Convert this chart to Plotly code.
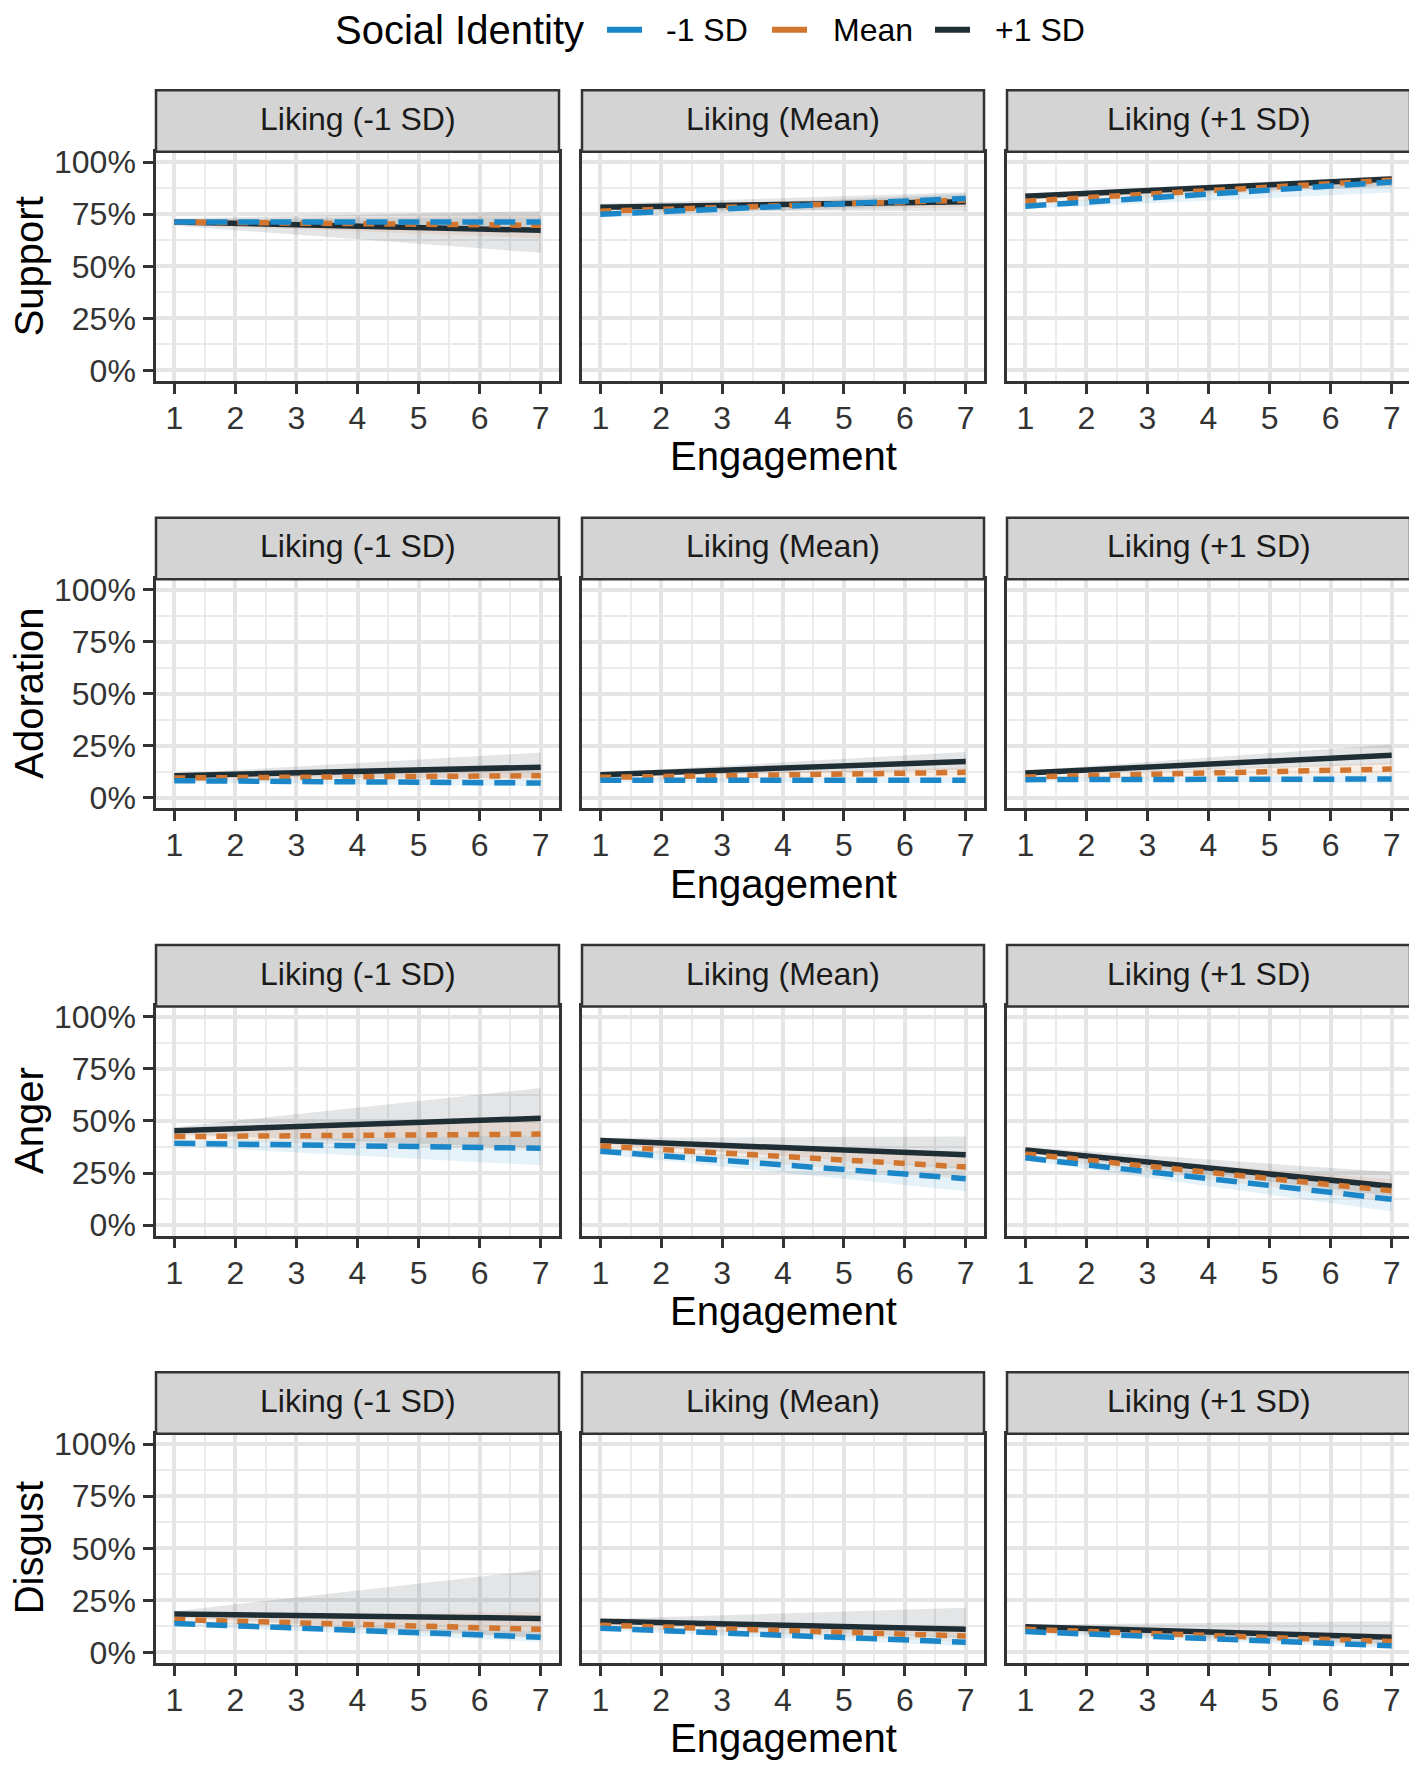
import plotly.graph_objects as go
from plotly.subplots import make_subplots

engagement = [1, 7]

liking_levels = ["Liking (-1 SD)", "Liking (Mean)", "Liking (+1 SD)"]
outcomes = ["Support", "Adoration", "Anger", "Disgust"]
identity_levels = ["-1 SD", "Mean", "+1 SD"]
colors = {"-1 SD": "#1B87C9", "Mean": "#D2762F", "+1 SD": "#1F2D35"}
fills = {"-1 SD": "rgba(27,135,201,0.11)", "Mean": "rgba(210,118,47,0.11)",
         "+1 SD": "rgba(31,45,53,0.12)"}
dashes = {"-1 SD": "21px,11px", "Mean": "11px,10px", "+1 SD": "solid"}

y_ticks = [0, 0.25, 0.5, 0.75, 1.0]
y_labels = ["0%", "25%", "50%", "75%", "100%"]
x_ticks = [1, 2, 3, 4, 5, 6, 7]

# each entry per liking panel: (fit@1, fit@7, lo@1, hi@1, lo@7, hi@7)
support = {
    "-1 SD": [(0.713, 0.713, 0.700, 0.725, 0.690, 0.735),
              (0.750, 0.826, 0.735, 0.765, 0.800, 0.850),
              (0.789, 0.905, 0.775, 0.800, 0.855, 0.925)],
    "Mean":  [(0.713, 0.697, 0.700, 0.725, 0.635, 0.745),
              (0.765, 0.818, 0.750, 0.780, 0.785, 0.845),
              (0.813, 0.914, 0.800, 0.825, 0.885, 0.935)],
    "+1 SD": [(0.713, 0.673, 0.695, 0.730, 0.565, 0.765),
              (0.784, 0.810, 0.770, 0.800, 0.765, 0.856),
              (0.837, 0.919, 0.825, 0.850, 0.885, 0.935)],
}
adoration = {
    "-1 SD": [(0.082, 0.071, 0.075, 0.090, 0.055, 0.090),
              (0.084, 0.084, 0.077, 0.092, 0.070, 0.100),
              (0.087, 0.090, 0.080, 0.095, 0.070, 0.110)],
    "Mean":  [(0.095, 0.106, 0.088, 0.103, 0.085, 0.130),
              (0.098, 0.122, 0.090, 0.106, 0.100, 0.145),
              (0.100, 0.138, 0.092, 0.108, 0.110, 0.170)],
    "+1 SD": [(0.106, 0.147, 0.097, 0.116, 0.095, 0.217),
              (0.111, 0.174, 0.102, 0.120, 0.135, 0.220),
              (0.119, 0.204, 0.110, 0.130, 0.160, 0.256)],
}
anger = {
    "-1 SD": [(0.393, 0.369, 0.380, 0.405, 0.287, 0.430),
              (0.355, 0.223, 0.340, 0.370, 0.163, 0.280),
              (0.323, 0.124, 0.310, 0.335, 0.065, 0.190)],
    "Mean":  [(0.425, 0.437, 0.410, 0.440, 0.360, 0.520),
              (0.380, 0.279, 0.365, 0.395, 0.220, 0.330),
              (0.342, 0.165, 0.330, 0.355, 0.110, 0.220)],
    "+1 SD": [(0.453, 0.513, 0.435, 0.470, 0.370, 0.659),
              (0.406, 0.338, 0.390, 0.420, 0.270, 0.425),
              (0.361, 0.187, 0.345, 0.375, 0.140, 0.255)],
}
disgust = {
    "-1 SD": [(0.139, 0.073, 0.130, 0.150, 0.050, 0.100),
              (0.116, 0.049, 0.108, 0.125, 0.030, 0.080),
              (0.100, 0.032, 0.092, 0.108, 0.020, 0.055)],
    "Mean":  [(0.158, 0.111, 0.148, 0.170, 0.070, 0.195),
              (0.131, 0.079, 0.122, 0.140, 0.050, 0.120),
              (0.111, 0.052, 0.103, 0.120, 0.030, 0.090)],
    "+1 SD": [(0.184, 0.163, 0.170, 0.198, 0.070, 0.397),
              (0.150, 0.111, 0.140, 0.160, 0.070, 0.215),
              (0.123, 0.073, 0.113, 0.133, 0.040, 0.150)],
}
outcome_data = [support, adoration, anger, disgust]

# the page body has an 8px margin, so the figure starts 8px in
OFF = 8
W, H = 1417 - OFF, 1776 - 2 * OFF


def px(v):
    return min(max((v - OFF) / W, 0), 1)


def py(v):
    return min(max(1 - (v - OFF) / H, 0), 1)


col_px = [(156, 559), (582, 984), (1007, 1410)]
row_top0, row_bot0, row_step = 146, 377, 431
strip_h = 62

fig = make_subplots(rows=4, cols=3)

draw_order = ["+1 SD", "Mean", "-1 SD"]
for r, data in enumerate(outcome_data):
    for c in range(3):
        # ribbons first
        for lvl in draw_order:
            f1, f7, lo1, hi1, lo7, hi7 = data[lvl][c]
            fig.add_trace(go.Scatter(
                x=engagement + engagement[::-1], y=[hi1, hi7, lo7, lo1],
                fill="toself", fillcolor=fills[lvl], line=dict(width=0),
                mode="lines", hoverinfo="skip", showlegend=False),
                row=r + 1, col=c + 1)
        for lvl in draw_order:
            f1, f7 = data[lvl][c][0], data[lvl][c][1]
            fig.add_trace(go.Scatter(
                x=engagement, y=[f1, f7], mode="lines", name=lvl,
                line=dict(color=colors[lvl], width=5.5, dash=dashes[lvl]),
                showlegend=False),
                row=r + 1, col=c + 1)

font = "Liberation Sans, Arial, sans-serif"
shapes = []
annotations = []
for r in range(4):
    top = row_top0 + r * row_step
    bot = row_bot0 + r * row_step
    for c in range(3):
        idx = r * 3 + c + 1
        xa = "xaxis" if idx == 1 else f"xaxis{idx}"
        ya = "yaxis" if idx == 1 else f"yaxis{idx}"
        x0, x1 = col_px[c]
        fig.layout[xa].update(
            domain=[px(x0), px(x1)], range=[0.7, 7.3], tickvals=x_ticks,
            showgrid=True, gridcolor="#E5E5E5", gridwidth=3.5,
            minor=dict(dtick=0.5, tick0=1, showgrid=True, gridcolor="#EBEBEB", gridwidth=2),
            ticks="outside", ticklen=10, tickwidth=3, tickcolor="#333333",
            ticklabelstandoff=-3,
            showline=True, mirror=True, linecolor="#333333", linewidth=2.5,
            tickfont=dict(family=font, size=32, color="#333333"), zeroline=False)
        fig.layout[ya].update(
            domain=[py(bot), py(top)], range=[-0.05, 1.05],
            tickvals=y_ticks, ticktext=y_labels,
            showticklabels=(c == 0), ticks="outside" if c == 0 else "",
            ticklen=10, tickwidth=3, tickcolor="#333333", ticklabelstandoff=1,
            showgrid=True, gridcolor="#E5E5E5", gridwidth=3.5,
            minor=dict(dtick=0.125, tick0=0, showgrid=True, gridcolor="#EBEBEB", gridwidth=2),
            showline=True, mirror=True, linecolor="#333333", linewidth=2.5,
            tickfont=dict(family=font, size=32, color="#333333"), zeroline=False)
        # facet strip
        shapes.append(dict(type="rect", xref="paper", yref="paper",
                           x0=px(x0), x1=px(x1), y0=py(top), y1=py(top - strip_h),
                           fillcolor="#D4D4D4", line=dict(color="#333333", width=2.5),
                           layer="above"))
        annotations.append(dict(text=liking_levels[c], xref="paper", yref="paper",
                                x=px((x0 + x1) / 2), y=py(top - strip_h / 2 - 2),
                                showarrow=False, xanchor="center", yanchor="middle",
                                font=dict(family=font, size=32, color="#1A1A1A")))
    # row titles
    annotations.append(dict(text="Engagement", xref="paper", yref="paper",
                            x=px((col_px[1][0] + col_px[1][1]) / 2),
                            y=py(bot + 76), showarrow=False,
                            xanchor="center", yanchor="middle",
                            font=dict(family=font, size=40, color="black")))
    annotations.append(dict(text=outcomes[r], xref="paper", yref="paper",
                            x=px(29), y=py((top + bot) / 2), textangle=-90,
                            showarrow=False, xanchor="center", yanchor="middle",
                            font=dict(family=font, size=40, color="black")))

# legend drawn at the top: title, keys and labels
legend_y = 23
annotations.append(dict(text="Social Identity", xref="paper", yref="paper",
                        x=px(333), y=py(legend_y), xanchor="left", yanchor="middle",
                        showarrow=False, font=dict(family=font, size=40, color="black")))
key_x = [607, 772, 935]
label_x = [664, 831, 993]
for lvl, kx, lx in zip(identity_levels, key_x, label_x):
    shapes.append(dict(type="line", xref="paper", yref="paper",
                       x0=px(kx), x1=px(kx + 35), y0=py(legend_y), y1=py(legend_y),
                       line=dict(color=colors[lvl], width=6)))
    annotations.append(dict(text=lvl, xref="paper", yref="paper",
                            x=px(lx), y=py(legend_y), xanchor="left", yanchor="middle",
                            showarrow=False, font=dict(family=font, size=32, color="black")))

fig.update_layout(
    width=W, height=H, margin=dict(l=0, r=0, t=0, b=0),
    plot_bgcolor="white", paper_bgcolor="white", showlegend=False,
    shapes=shapes, annotations=annotations,
)

fig.write_html("out.html")
